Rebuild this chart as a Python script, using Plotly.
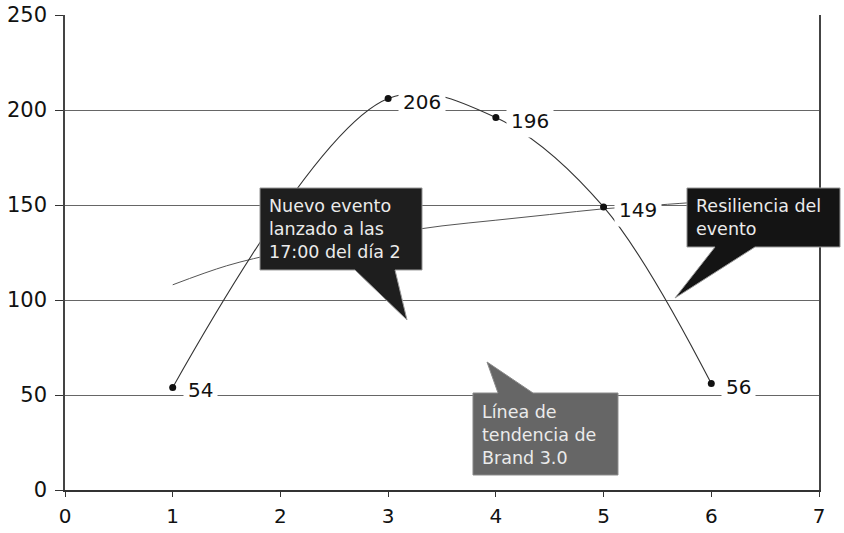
import plotly.graph_objects as go

# Data
x_vals = [1, 3, 4, 5, 6]
y_vals = [54, 206, 196, 149, 56]

trend_x = [1, 1.5, 2, 2.5, 3, 3.5, 4, 4.5, 5, 5.5, 6]
trend_y = [108, 118, 125, 131, 135, 139, 142, 145, 148, 150, 152]

x_ticks = [0, 1, 2, 3, 4, 5, 6, 7]
y_ticks = [0, 50, 100, 150, 200, 250]

FONT = "DejaVu Sans"

fig = go.Figure()

fig.add_trace(go.Scatter(
    x=trend_x, y=trend_y, mode="lines",
    line=dict(color="#555555", width=1, shape="spline", smoothing=1),
    hoverinfo="skip", showlegend=False,
))

fig.add_trace(go.Scatter(
    x=x_vals, y=y_vals, mode="lines+markers",
    line=dict(color="#333333", width=1.1, shape="spline", smoothing=1),
    marker=dict(color="#111111", size=7),
    showlegend=False,
))

annotations = []
for xv, yv in zip(x_vals, y_vals):
    annotations.append(dict(
        x=xv, y=yv, xref="x", yref="y", text=str(yv), showarrow=False,
        xanchor="left", yanchor="middle", xshift=10, yshift=-3,
        bgcolor="white", borderpad=4,
        font=dict(family=FONT, size=20, color="#111111"),
    ))

def P(px, py):
    return (px - 65) / 754.0, (490 - py) / 475.0

def bubble(box, base, tip, fill, line):
    (x0, y0), (x1, y1) = box  # pixel coords of box corners
    bx0, bx1 = base
    tx, ty = tip
    pts = []
    if ty > y1:  # tail below
        seq = [(x0, y0), (x1, y0), (x1, y1), (bx1, y1), (tx, ty), (bx0, y1), (x0, y1)]
    else:  # tail above
        seq = [(x0, y0), (bx0, y0), (tx, ty), (bx1, y0), (x1, y0), (x1, y1), (x0, y1)]
    for a, b in seq:
        u, v = P(a, b)
        pts.append(f"{u:.4f},{v:.4f}")
    path = "M " + " L ".join(pts) + " Z"
    return dict(type="path", xref="paper", yref="paper", path=path,
                fillcolor=fill, line=dict(color=line, width=1), layer="above")

shapes = [
    bubble(((260, 188), (422, 270)), (355, 395), (407, 320), "#1e1e1e", "#9a9a9a"),
    bubble(((473, 393), (618, 475)), (498, 533), (487, 362), "#666666", "#8a8a8a"),
    bubble(((687, 188), (840, 247)), (715, 755), (675, 298), "#141414", "#9a9a9a"),
]

def box_text(px, py, text):
    u, v = P(px, py)
    return dict(x=u, y=v, xref="paper", yref="paper", text=text, showarrow=False,
                xanchor="left", yanchor="top", align="left",
                font=dict(family=FONT, size=17.5, color="#ebebeb"))

annotations += [
    box_text(267, 194, "Nuevo evento<br>lanzado a las<br>17:00 del día 2"),
    box_text(480, 400, "Línea de<br>tendencia de<br>Brand 3.0"),
    box_text(694, 194, "Resiliencia del<br>evento"),
]

fig.update_layout(
    width=844, height=533,
    margin=dict(l=65, r=25, t=15, b=43, autoexpand=False),
    paper_bgcolor="white", plot_bgcolor="white",
    font=dict(family=FONT, size=20, color="#111111"),
    shapes=shapes, annotations=annotations,
    xaxis=dict(range=[0, 7], tickvals=x_ticks, showgrid=False, zeroline=False,
               automargin=False,
               showline=True, linecolor="#333333", linewidth=1.5,
               ticks="outside", ticklen=5, tickcolor="#333333",
               ticklabelstandoff=2,
               tickfont=dict(family=FONT, size=20, color="#111111")),
    yaxis=dict(range=[0, 250], tickvals=y_ticks, showgrid=True, gridcolor="#666666",
               gridwidth=1.2, zeroline=False, showline=True, mirror=True,
               automargin=False,
               linecolor="#444444", linewidth=1.5,
               ticks="outside", ticklen=8, tickcolor="#333333",
               ticklabelstandoff=4,
               tickfont=dict(family=FONT, size=21, color="#111111")),
)

fig.write_html("out.html", config={"displayModeBar": False},
               post_script="document.body.style.margin='0px';")
